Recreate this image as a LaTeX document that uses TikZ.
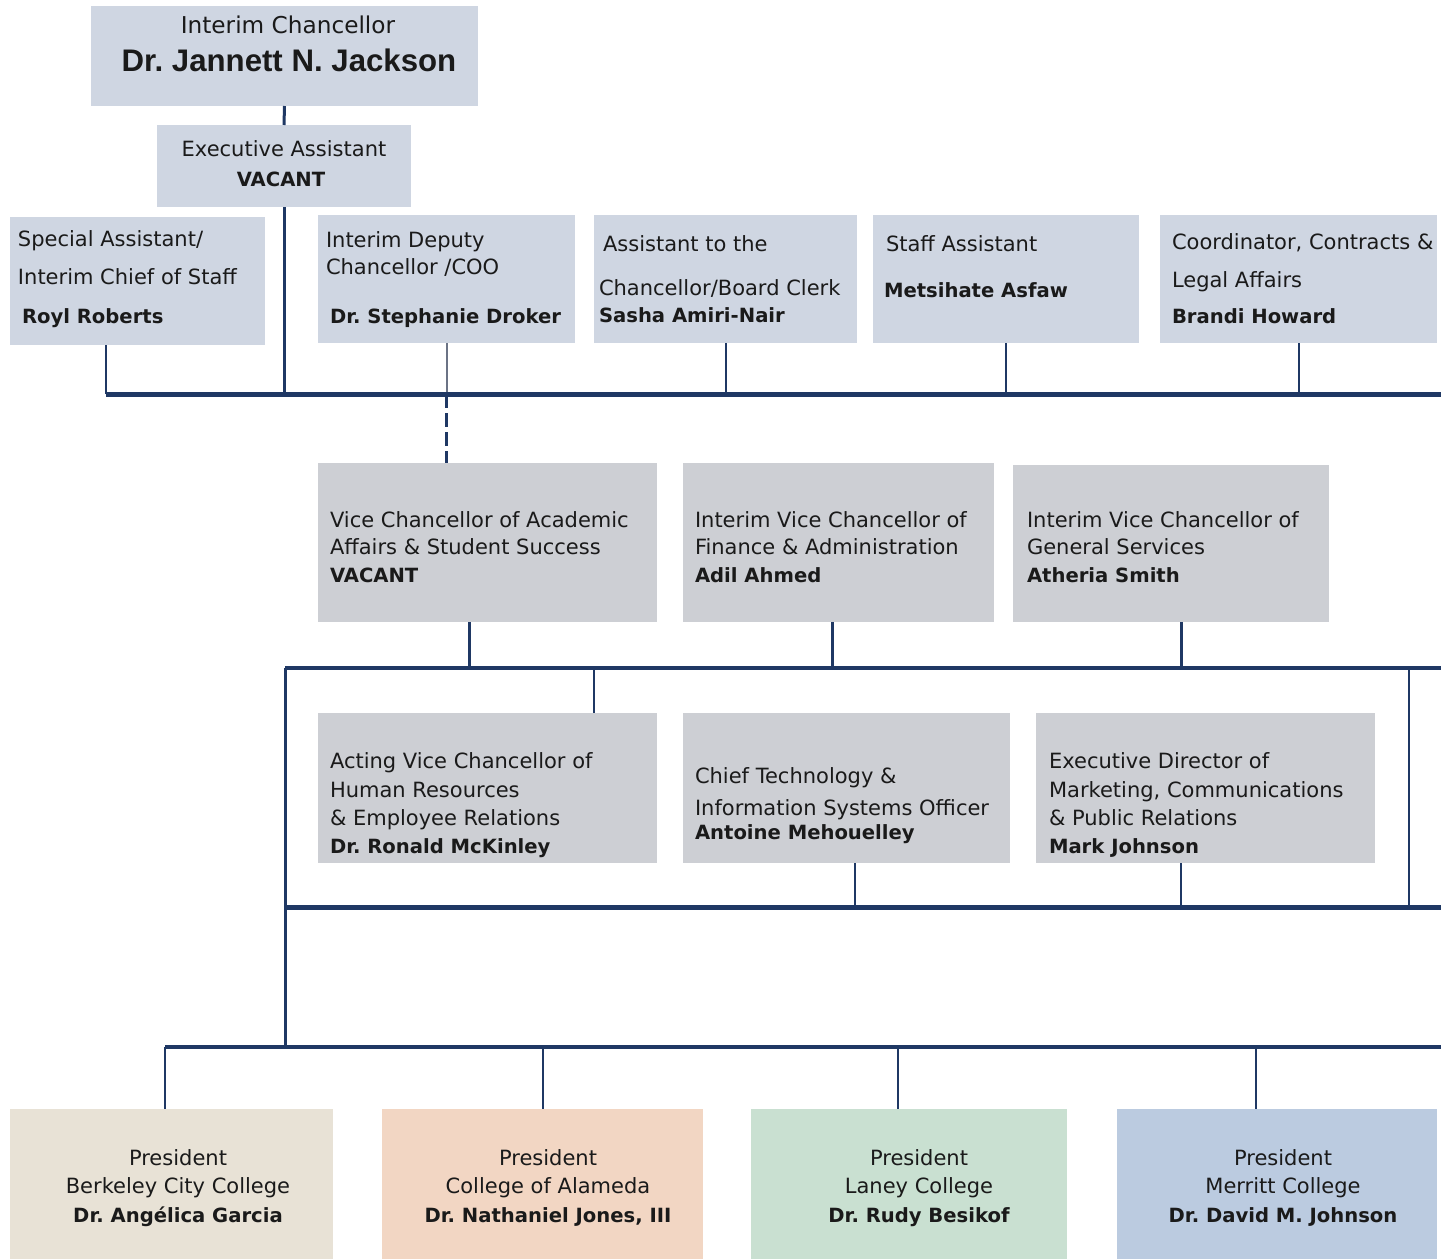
\documentclass[tikz,border=0pt]{standalone}
\usepackage{fontspec}
\setmainfont{DejaVu Sans}
\newfontfamily\namefont{Liberation Sans}
\usetikzlibrary{fit}
\definecolor{navy}{HTML}{1F3864}
\definecolor{depgray}{HTML}{6B7385}
\definecolor{topfill}{HTML}{CFD6E2}
\definecolor{midfill}{HTML}{CDCFD4}
\definecolor{bcc}{HTML}{E8E2D6}
\definecolor{coa}{HTML}{F2D6C3}
\definecolor{lan}{HTML}{C9E0D1}
\definecolor{mer}{HTML}{BBCBE0}
\definecolor{txt}{HTML}{1A1A1A}
\newcommand{\txreg}{\fontsize{10.5}{12}\selectfont}
\newcommand{\txbold}{\fontsize{9.8}{12}\selectfont\bfseries}
\frenchspacing
\tikzset{
  box/.style={inner sep=0pt, outer sep=0pt, draw=none},
  tbox/.style={box, fill=topfill},
  mbox/.style={box, fill=midfill},
  lt/.style={inner sep=0pt, outer sep=0pt, anchor=base west, font=\txreg, text=txt},
  lb/.style={lt, font=\txbold},
  ct/.style={lt, anchor=base},
  cb/.style={lb, anchor=base},
  barline/.style={draw=navy, line width=2.5pt},
  midbar/.style={draw=navy, line width=2pt},
  thickv/.style={draw=navy, line width=1.5pt},
  thinv/.style={draw=navy, line width=1pt},
  depline/.style={draw=depgray, line width=1pt},
  dashline/.style={draw=navy, line width=1.5pt, dash pattern=on 7pt off 2.5pt}
}
\begin{document}
\begin{tikzpicture}[x=0.5pt,y=-0.5pt]
\useasboundingbox (0,0) rectangle (1446,1259);
\fill[white] (0,0) rectangle (1446,1259);

% ---------- boxes ----------
\node[tbox, fit={(91,6) (478,106)}] (chan) {};
\node[tbox, fit={(157,125) (411,207)}] (exec) {};
\node[tbox, fit={(10,217) (265,345)}] (spec) {};
\node[tbox, fit={(318,215) (575,343)}] (dep) {};
\node[tbox, fit={(594,215) (857,343)}] (asst) {};
\node[tbox, fit={(873,215) (1139,343)}] (staff) {};
\node[tbox, fit={(1160,215) (1437,343)}] (coord) {};

\node[mbox, fit={(318,463) (657,622)}] (vca) {};
\node[mbox, fit={(683,463) (994,622)}] (vcf) {};
\node[mbox, fit={(1013,465) (1329,622)}] (vcg) {};
\node[mbox, fit={(318,713) (657,863)}] (hr) {};
\node[mbox, fit={(683,713) (1010,863)}] (cto) {};
\node[mbox, fit={(1036,713) (1375,863)}] (mkt) {};

\node[box, fill=bcc, fit={(10,1109) (333,1259)}] (pb) {};
\node[box, fill=coa, fit={(382,1109) (703,1259)}] (pa) {};
\node[box, fill=lan, fit={(751,1109) (1067,1259)}] (pl) {};
\node[box, fill=mer, fit={(1117,1109) (1437,1259)}] (pm) {};

% ---------- connectors ----------
\coordinate (b1L) at (106,394);
\coordinate (b1R) at (1441,394);
\draw[thickv] (chan.south) -- (exec.north);
\draw[thickv] (exec.south) -- (exec.south |- b1L);
\draw[thinv] (b1L) -- (b1L |- spec.south);
\draw[depline] (dep.south) -- (dep.south |- b1L);
\draw[dashline] (dep.south |- b1L) -- (dep.south |- vca.north);
\draw[thinv] (asst.south) -- (asst.south |- b1L);
\draw[thinv] (staff.south) -- (staff.south |- b1L);
\draw[thinv] (coord.south) -- (coord.south |- b1L);
\draw[barline] (b1L) -- (b1R);

\coordinate (b2L) at (285,668);
\coordinate (b2R) at (1441,668);
\coordinate (v1) at (469,668);
\coordinate (v2) at (832,668);
\coordinate (v3) at (1181,668);
\coordinate (v4) at (594,668);
\coordinate (v5) at (1409,668);
\draw[thickv] (v1) -- (v1 |- vca.south);
\draw[thickv] (v2) -- (v2 |- vcf.south);
\draw[thickv] (v3) -- (v3 |- vcg.south);
\draw[thinv] (v4) -- (v4 |- hr.north);

\coordinate (b3L) at (285,907);
\coordinate (b3R) at (1441,907);
\coordinate (c1) at (855,907);
\coordinate (c2) at (1181,907);
\draw[thinv] (v5) -- (v5 |- b3L);
\draw[thinv] (c1) -- (c1 |- cto.south);
\draw[thinv] (c2) -- (c2 |- mkt.south);

\coordinate (b4L) at (165,1047);
\coordinate (b4R) at (1441,1047);
\coordinate (j4) at (285,1047);
\coordinate (p2) at (543,1047);
\coordinate (p3) at (898,1047);
\coordinate (p4) at (1256,1047);
\draw[thickv] (b2L) -- (j4);
\draw[thinv] (b4L) -- (b4L |- pb.north);
\draw[thinv] (p2) -- (p2 |- pa.north);
\draw[thinv] (p3) -- (p3 |- pl.north);
\draw[thinv] (p4) -- (p4 |- pm.north);
\draw[midbar] (b2L) -- (b2R);
\draw[barline] (b3L) -- (b3R);
\draw[midbar] (b4L) -- (b4R);

% ---------- texts ----------
\node[ct, font=\fontsize{11.6}{13}\selectfont] (chanA) at (288,33) {Interim Chancellor};
\node[cb, font=\namefont\fontsize{15.6}{17}\selectfont\bfseries] (chanB) at (289,71) {Dr. Jannett N. Jackson};

\node[ct] (execA) at (284,156) {Executive Assistant};
\node[cb] (execB) at (281,186) {VACANT};

\node[lt] (specA) at (18,246) {Special Assistant/};
\node[lt] (specB) at (18,284) {Interim Chief of Staff};
\node[lb] (specC) at (22,323) {Royl Roberts};

\node[lt] (depA) at (326,247) {Interim Deputy};
\node[lt] (depB) at (326,274) {Chancellor /COO};
\node[lb] (depC) at (330,323) {Dr. Stephanie Droker};

\node[lt] (asA) at (603,251) {Assistant to the};
\node[lt] (asB) at (599,295) {Chancellor/Board Clerk};
\node[lb] (asC) at (599,322) {Sasha Amiri-Nair};

\node[lt] (stA) at (886,251) {Staff Assistant};
\node[lb] (stB) at (884,297) {Metsihate Asfaw};

\node[lt] (coA) at (1172,249) {Coordinator, Contracts \&};
\node[lt] (coB) at (1172,287) {Legal Affairs};
\node[lb] (coC) at (1172,323) {Brandi Howard};

\node[lt] (vcaA) at (330,527) {Vice Chancellor of Academic};
\node[lt] (vcaB) at (330,554) {Affairs \& Student Success};
\node[lb] (vcaC) at (330,582) {VACANT};

\node[lt] (vcfA) at (695,527) {Interim Vice Chancellor of};
\node[lt] (vcfB) at (695,554) {Finance \& Administration};
\node[lb] (vcfC) at (695,582) {Adil Ahmed};

\node[lt] (vcgA) at (1027,527) {Interim Vice Chancellor of};
\node[lt] (vcgB) at (1027,554) {General Services};
\node[lb] (vcgC) at (1027,582) {Atheria Smith};

\node[lt] (hrA) at (330,768) {Acting Vice Chancellor of};
\node[lt] (hrB) at (330,797) {Human Resources};
\node[lt] (hrC) at (330,825) {\& Employee Relations};
\node[lb] (hrD) at (330,853) {Dr. Ronald McKinley};

\node[lt] (ctoA) at (695,783) {Chief Technology \&};
\node[lt] (ctoB) at (695,815) {Information Systems Officer};
\node[lb] (ctoC) at (695,839) {Antoine Mehouelley};

\node[lt] (mktA) at (1049,768) {Executive Director of};
\node[lt] (mktB) at (1049,797) {Marketing, Communications};
\node[lt] (mktC) at (1049,825) {\& Public Relations};
\node[lb] (mktD) at (1049,853) {Mark Johnson};

\node[ct] (pbA) at (178,1165) {President};
\node[ct] (pbB) at (178,1193) {Berkeley City College};
\node[cb] (pbC) at (178,1222) {Dr. Angélica Garcia};

\node[ct] (paA) at (548,1165) {President};
\node[ct] (paB) at (548,1193) {College of Alameda};
\node[cb] (paC) at (548,1222) {Dr. Nathaniel Jones, III};

\node[ct] (plA) at (919,1165) {President};
\node[ct] (plB) at (919,1193) {Laney College};
\node[cb] (plC) at (919,1222) {Dr. Rudy Besikof};

\node[ct] (pmA) at (1283,1165) {President};
\node[ct] (pmB) at (1283,1193) {Merritt College};
\node[cb] (pmC) at (1283,1222) {Dr. David M. Johnson};
\end{tikzpicture}
\end{document}
